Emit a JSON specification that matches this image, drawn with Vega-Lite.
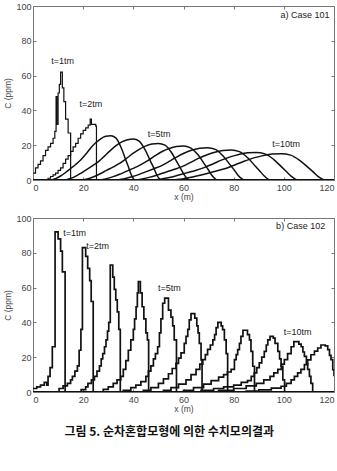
{
  "$schema": "https://vega.github.io/schema/vega-lite/v6.json",
  "background": "white",
  "padding": {"left": 3, "top": 1, "right": 0, "bottom": 0},
  "spacing": 11,
  "title": {"text": "그림 5. 순차혼합모형에 의한 수치모의결과", "orient": "bottom", "anchor": "middle", "font": "Noto Sans CJK KR", "fontSize": 12, "fontWeight": "bold", "color": "#111", "offset": 13},
  "config": {
    "view": {"stroke": "#777", "strokeWidth": 1},
    "axis": {"labelFont": "Liberation Sans", "labelFontSize": 9, "labelColor": "#444", "titleFont": "Liberation Sans", "titleFontSize": 8.5, "titleFontWeight": "normal", "titleColor": "#444", "tickColor": "#777", "tickSize": -3, "domain": false, "grid": false},
    "text": {"font": "Liberation Sans", "fontSize": 9, "color": "#222"}
  },
  "datasets": {
    "a": [
      {"t":1,"k":"s","x":0,"C":4},{"t":1,"k":"s","x":1,"C":7},{"t":1,"k":"s","x":2,"C":9},{"t":1,"k":"s","x":3,"C":11},{"t":1,"k":"s","x":4,"C":14},{"t":1,"k":"s","x":5,"C":17},{"t":1,"k":"s","x":6,"C":19},{"t":1,"k":"s","x":7,"C":21},{"t":1,"k":"s","x":8,"C":24},{"t":1,"k":"s","x":8.7,"C":28},{"t":1,"k":"s","x":9.2,"C":48},{"t":1,"k":"s","x":9.5,"C":32},{"t":1,"k":"s","x":10,"C":50},{"t":1,"k":"s","x":10.5,"C":55},{"t":1,"k":"s","x":11,"C":62},{"t":1,"k":"s","x":11.7,"C":53},{"t":1,"k":"s","x":12.3,"C":45},{"t":1,"k":"s","x":13,"C":35},{"t":1,"k":"s","x":14,"C":27},{"t":1,"k":"s","x":15,"C":0},{"t":1,"k":"s","x":120,"C":0},
      {"t":2,"k":"s","x":0,"C":0},{"t":2,"k":"s","x":5,"C":0},{"t":2,"k":"s","x":6,"C":1},{"t":2,"k":"s","x":7,"C":2},{"t":2,"k":"s","x":8,"C":3},{"t":2,"k":"s","x":9,"C":4},{"t":2,"k":"s","x":10,"C":5.5},{"t":2,"k":"s","x":11,"C":7},{"t":2,"k":"s","x":12,"C":9.5},{"t":2,"k":"s","x":13,"C":12},{"t":2,"k":"s","x":14,"C":14},{"t":2,"k":"s","x":15,"C":16.5},{"t":2,"k":"s","x":16,"C":19},{"t":2,"k":"s","x":17,"C":21},{"t":2,"k":"s","x":18,"C":24},{"t":2,"k":"s","x":19,"C":26.5},{"t":2,"k":"s","x":20,"C":28.5},{"t":2,"k":"s","x":21,"C":30},{"t":2,"k":"s","x":22,"C":31.5},{"t":2,"k":"s","x":22.8,"C":35},{"t":2,"k":"s","x":23.3,"C":32},{"t":2,"k":"s","x":24,"C":32},{"t":2,"k":"s","x":25,"C":31},{"t":2,"k":"s","x":25.3,"C":0},{"t":2,"k":"s","x":120,"C":0},
      {"t":3,"k":"l","x":0,"C":0},{"t":3,"k":"l","x":7,"C":0},{"t":3,"k":"l","x":9,"C":0.8},{"t":3,"k":"l","x":11,"C":2.3},{"t":3,"k":"l","x":13,"C":4.3},{"t":3,"k":"l","x":15,"C":6.6},{"t":3,"k":"l","x":17,"C":8.9},{"t":3,"k":"l","x":19,"C":11.5},{"t":3,"k":"l","x":21,"C":14.8},{"t":3,"k":"l","x":23,"C":18.4},{"t":3,"k":"l","x":25,"C":21.4},{"t":3,"k":"l","x":27,"C":23.7},{"t":3,"k":"l","x":29,"C":25.1},{"t":3,"k":"l","x":31,"C":25.5},{"t":3,"k":"l","x":33,"C":24.2},{"t":3,"k":"l","x":35,"C":19.1},{"t":3,"k":"l","x":37,"C":11.5},{"t":3,"k":"l","x":38,"C":7.7},{"t":3,"k":"l","x":39,"C":3.6},{"t":3,"k":"l","x":40,"C":0.8},{"t":3,"k":"l","x":40.5,"C":0},{"t":3,"k":"l","x":120,"C":0},
      {"t":4,"k":"l","x":0,"C":0},{"t":4,"k":"l","x":12.3,"C":0},{"t":4,"k":"l","x":14.6,"C":0.7},{"t":4,"k":"l","x":16.9,"C":2.1},{"t":4,"k":"l","x":19.2,"C":4},{"t":4,"k":"l","x":21.5,"C":6.1},{"t":4,"k":"l","x":23.8,"C":8.2},{"t":4,"k":"l","x":26.1,"C":10.6},{"t":4,"k":"l","x":28.4,"C":13.6},{"t":4,"k":"l","x":30.8,"C":16.9},{"t":4,"k":"l","x":33.1,"C":19.7},{"t":4,"k":"l","x":35.4,"C":21.9},{"t":4,"k":"l","x":37.7,"C":23.1},{"t":4,"k":"l","x":40,"C":23.5},{"t":4,"k":"l","x":42.3,"C":22.3},{"t":4,"k":"l","x":44.6,"C":17.6},{"t":4,"k":"l","x":46.9,"C":10.6},{"t":4,"k":"l","x":48.1,"C":7.1},{"t":4,"k":"l","x":49.2,"C":3.3},{"t":4,"k":"l","x":50.4,"C":0.7},{"t":4,"k":"l","x":51,"C":0},{"t":4,"k":"l","x":120,"C":0},
      {"t":5,"k":"l","x":0,"C":0},{"t":5,"k":"l","x":19,"C":0},{"t":5,"k":"l","x":21.6,"C":0.6},{"t":5,"k":"l","x":24.2,"C":1.9},{"t":5,"k":"l","x":26.8,"C":3.6},{"t":5,"k":"l","x":29.3,"C":5.5},{"t":5,"k":"l","x":31.9,"C":7.4},{"t":5,"k":"l","x":34.5,"C":9.5},{"t":5,"k":"l","x":37.1,"C":12.2},{"t":5,"k":"l","x":39.7,"C":15.1},{"t":5,"k":"l","x":42.3,"C":17.6},{"t":5,"k":"l","x":44.8,"C":19.5},{"t":5,"k":"l","x":47.4,"C":20.7},{"t":5,"k":"l","x":50,"C":21},{"t":5,"k":"l","x":52.6,"C":20},{"t":5,"k":"l","x":55.2,"C":15.8},{"t":5,"k":"l","x":57.7,"C":9.5},{"t":5,"k":"l","x":59,"C":6.3},{"t":5,"k":"l","x":60.3,"C":2.9},{"t":5,"k":"l","x":61.6,"C":0.6},{"t":5,"k":"l","x":62.3,"C":0},{"t":5,"k":"l","x":120,"C":0},
      {"t":6,"k":"l","x":0,"C":0},{"t":6,"k":"l","x":26.1,"C":0},{"t":6,"k":"l","x":28.9,"C":0.6},{"t":6,"k":"l","x":31.7,"C":1.8},{"t":6,"k":"l","x":34.5,"C":3.3},{"t":6,"k":"l","x":37.4,"C":5.1},{"t":6,"k":"l","x":40.2,"C":6.8},{"t":6,"k":"l","x":43,"C":8.8},{"t":6,"k":"l","x":45.9,"C":11.3},{"t":6,"k":"l","x":48.7,"C":14},{"t":6,"k":"l","x":51.5,"C":16.4},{"t":6,"k":"l","x":54.3,"C":18.1},{"t":6,"k":"l","x":57.2,"C":19.2},{"t":6,"k":"l","x":60,"C":19.5},{"t":6,"k":"l","x":62.8,"C":18.5},{"t":6,"k":"l","x":65.7,"C":14.6},{"t":6,"k":"l","x":68.5,"C":8.8},{"t":6,"k":"l","x":69.9,"C":5.9},{"t":6,"k":"l","x":71.3,"C":2.7},{"t":6,"k":"l","x":72.7,"C":0.6},{"t":6,"k":"l","x":73.4,"C":0},{"t":6,"k":"l","x":120,"C":0},
      {"t":7,"k":"l","x":0,"C":0},{"t":7,"k":"l","x":32.9,"C":0},{"t":7,"k":"l","x":36,"C":0.6},{"t":7,"k":"l","x":39,"C":1.7},{"t":7,"k":"l","x":42.1,"C":3.1},{"t":7,"k":"l","x":45.2,"C":4.8},{"t":7,"k":"l","x":48.2,"C":6.5},{"t":7,"k":"l","x":51.3,"C":8.3},{"t":7,"k":"l","x":54.3,"C":10.7},{"t":7,"k":"l","x":57.4,"C":13.3},{"t":7,"k":"l","x":60.4,"C":15.5},{"t":7,"k":"l","x":63.5,"C":17.2},{"t":7,"k":"l","x":66.5,"C":18.2},{"t":7,"k":"l","x":69.6,"C":18.5},{"t":7,"k":"l","x":72.7,"C":17.6},{"t":7,"k":"l","x":75.7,"C":13.9},{"t":7,"k":"l","x":78.8,"C":8.3},{"t":7,"k":"l","x":80.3,"C":5.6},{"t":7,"k":"l","x":81.8,"C":2.6},{"t":7,"k":"l","x":83.4,"C":0.6},{"t":7,"k":"l","x":84.1,"C":0},{"t":7,"k":"l","x":120,"C":0},
      {"t":8,"k":"l","x":0,"C":0},{"t":8,"k":"l","x":39.8,"C":0},{"t":8,"k":"l","x":43.1,"C":0.5},{"t":8,"k":"l","x":46.3,"C":1.5},{"t":8,"k":"l","x":49.6,"C":2.9},{"t":8,"k":"l","x":52.9,"C":4.5},{"t":8,"k":"l","x":56.1,"C":6},{"t":8,"k":"l","x":59.4,"C":7.7},{"t":8,"k":"l","x":62.7,"C":10},{"t":8,"k":"l","x":65.9,"C":12.4},{"t":8,"k":"l","x":69.2,"C":14.4},{"t":8,"k":"l","x":72.5,"C":16},{"t":8,"k":"l","x":75.7,"C":16.9},{"t":8,"k":"l","x":79,"C":17.2},{"t":8,"k":"l","x":82.3,"C":16.3},{"t":8,"k":"l","x":85.5,"C":12.9},{"t":8,"k":"l","x":88.8,"C":7.7},{"t":8,"k":"l","x":90.4,"C":5.2},{"t":8,"k":"l","x":92.1,"C":2.4},{"t":8,"k":"l","x":93.7,"C":0.5},{"t":8,"k":"l","x":94.5,"C":0},{"t":8,"k":"l","x":120,"C":0},
      {"t":9,"k":"l","x":0,"C":0},{"t":9,"k":"l","x":47.4,"C":0},{"t":9,"k":"l","x":50.9,"C":0.5},{"t":9,"k":"l","x":54.4,"C":1.4},{"t":9,"k":"l","x":57.8,"C":2.7},{"t":9,"k":"l","x":61.3,"C":4.1},{"t":9,"k":"l","x":64.8,"C":5.5},{"t":9,"k":"l","x":68.2,"C":7.1},{"t":9,"k":"l","x":71.7,"C":9.2},{"t":9,"k":"l","x":75.1,"C":11.4},{"t":9,"k":"l","x":78.6,"C":13.3},{"t":9,"k":"l","x":82.1,"C":14.7},{"t":9,"k":"l","x":85.5,"C":15.6},{"t":9,"k":"l","x":89,"C":15.8},{"t":9,"k":"l","x":92.5,"C":15},{"t":9,"k":"l","x":95.9,"C":11.9},{"t":9,"k":"l","x":99.4,"C":7.1},{"t":9,"k":"l","x":101.1,"C":4.7},{"t":9,"k":"l","x":102.9,"C":2.2},{"t":9,"k":"l","x":104.6,"C":0.5},{"t":9,"k":"l","x":105.5,"C":0},{"t":9,"k":"l","x":120,"C":0},
      {"t":10,"k":"l","x":0,"C":0},{"t":10,"k":"l","x":55.2,"C":0},{"t":10,"k":"l","x":58.8,"C":0.5},{"t":10,"k":"l","x":62.5,"C":1.4},{"t":10,"k":"l","x":66.1,"C":2.6},{"t":10,"k":"l","x":69.8,"C":3.9},{"t":10,"k":"l","x":73.4,"C":5.3},{"t":10,"k":"l","x":77.1,"C":6.8},{"t":10,"k":"l","x":80.7,"C":8.8},{"t":10,"k":"l","x":84.4,"C":10.9},{"t":10,"k":"l","x":88,"C":12.7},{"t":10,"k":"l","x":91.7,"C":14},{"t":10,"k":"l","x":95.3,"C":14.9},{"t":10,"k":"l","x":99,"C":15.1},{"t":10,"k":"l","x":102.7,"C":14.3},{"t":10,"k":"l","x":106.3,"C":11.3},{"t":10,"k":"l","x":110,"C":6.8},{"t":10,"k":"l","x":111.8,"C":4.5},{"t":10,"k":"l","x":113.6,"C":2.1},{"t":10,"k":"l","x":115.4,"C":0.5},{"t":10,"k":"l","x":116.3,"C":0},{"t":10,"k":"l","x":120,"C":0}
    ],
    "b": [
      {"t":1,"x":0,"C":2},{"t":1,"x":1.5,"C":3},{"t":1,"x":3,"C":4},{"t":1,"x":4.5,"C":5.5},{"t":1,"x":5.5,"C":4},{"t":1,"x":6,"C":9},{"t":1,"x":6.8,"C":14},{"t":1,"x":7.7,"C":26},{"t":1,"x":8.8,"C":92},{"t":1,"x":10,"C":88},{"t":1,"x":11,"C":81},{"t":1,"x":11.7,"C":69},{"t":1,"x":12.8,"C":0},{"t":1,"x":120,"C":0},
      {"t":2,"x":0,"C":0},{"t":2,"x":10,"C":0},{"t":2,"x":10.4,"C":2},{"t":2,"x":12,"C":3.5},{"t":2,"x":13.7,"C":5},{"t":2,"x":15,"C":7},{"t":2,"x":15.7,"C":9},{"t":2,"x":16.7,"C":12},{"t":2,"x":17.7,"C":15},{"t":2,"x":18.4,"C":24},{"t":2,"x":19.1,"C":36},{"t":2,"x":19.7,"C":83},{"t":2,"x":21,"C":78},{"t":2,"x":21.8,"C":71},{"t":2,"x":22.6,"C":64},{"t":2,"x":23.2,"C":52},{"t":2,"x":24,"C":0},{"t":2,"x":120,"C":0},
      {"t":3,"x":0,"C":0},{"t":3,"x":17,"C":0},{"t":3,"x":19.2,"C":1.4},{"t":3,"x":21,"C":3},{"t":3,"x":21.9,"C":5},{"t":3,"x":23.3,"C":7},{"t":3,"x":24.5,"C":9},{"t":3,"x":25.5,"C":12},{"t":3,"x":26.5,"C":15},{"t":3,"x":27.2,"C":19},{"t":3,"x":27.8,"C":22},{"t":3,"x":28.5,"C":26},{"t":3,"x":29.1,"C":30},{"t":3,"x":29.7,"C":35},{"t":3,"x":30.2,"C":40},{"t":3,"x":30.8,"C":73},{"t":3,"x":31.8,"C":66},{"t":3,"x":32.4,"C":59},{"t":3,"x":33,"C":53},{"t":3,"x":33.6,"C":46},{"t":3,"x":34.2,"C":36},{"t":3,"x":34.8,"C":0},{"t":3,"x":120,"C":0},
      {"t":4,"x":0,"C":0},{"t":4,"x":26,"C":0},{"t":4,"x":28,"C":1.5},{"t":4,"x":30,"C":3},{"t":4,"x":32,"C":5},{"t":4,"x":33.5,"C":7},{"t":4,"x":35,"C":9},{"t":4,"x":36,"C":13},{"t":4,"x":37,"C":18},{"t":4,"x":38,"C":24},{"t":4,"x":39,"C":30},{"t":4,"x":40,"C":36},{"t":4,"x":40.5,"C":42},{"t":4,"x":41.1,"C":49},{"t":4,"x":41.6,"C":57},{"t":4,"x":42,"C":63.5},{"t":4,"x":42.8,"C":57},{"t":4,"x":43.5,"C":49},{"t":4,"x":44.2,"C":42},{"t":4,"x":45,"C":34},{"t":4,"x":45.6,"C":30},{"t":4,"x":46.1,"C":0},{"t":4,"x":120,"C":0},
      {"t":5,"x":0,"C":0},{"t":5,"x":33,"C":0},{"t":5,"x":36,"C":1},{"t":5,"x":39,"C":2.5},{"t":5,"x":41,"C":4},{"t":5,"x":43,"C":6},{"t":5,"x":45,"C":9},{"t":5,"x":46,"C":12},{"t":5,"x":47,"C":15},{"t":5,"x":48,"C":19},{"t":5,"x":48.8,"C":22},{"t":5,"x":49.7,"C":26},{"t":5,"x":50.4,"C":34},{"t":5,"x":51,"C":42},{"t":5,"x":51.7,"C":51},{"t":5,"x":52.5,"C":54},{"t":5,"x":54,"C":47},{"t":5,"x":55,"C":43},{"t":5,"x":55.7,"C":38},{"t":5,"x":56.3,"C":30},{"t":5,"x":57.2,"C":0},{"t":5,"x":120,"C":0},
      {"t":6,"x":0,"C":0},{"t":6,"x":40,"C":0},{"t":6,"x":44,"C":1},{"t":6,"x":47,"C":2.5},{"t":6,"x":50,"C":5},{"t":6,"x":52,"C":7.5},{"t":6,"x":54,"C":10.5},{"t":6,"x":55.5,"C":13.5},{"t":6,"x":57,"C":16.5},{"t":6,"x":58,"C":19.5},{"t":6,"x":59,"C":22.5},{"t":6,"x":60.3,"C":28},{"t":6,"x":61,"C":32},{"t":6,"x":61.7,"C":36},{"t":6,"x":62.3,"C":41.5},{"t":6,"x":63,"C":45},{"t":6,"x":64.5,"C":42.5},{"t":6,"x":65.3,"C":38},{"t":6,"x":65.8,"C":34},{"t":6,"x":66.3,"C":28},{"t":6,"x":67,"C":18.5},{"t":6,"x":67.4,"C":0},{"t":6,"x":120,"C":0},
      {"t":7,"x":0,"C":0},{"t":7,"x":48,"C":0},{"t":7,"x":52,"C":1},{"t":7,"x":55,"C":2.5},{"t":7,"x":58,"C":4.5},{"t":7,"x":61,"C":7},{"t":7,"x":63,"C":10},{"t":7,"x":65,"C":13},{"t":7,"x":66.5,"C":16},{"t":7,"x":67.7,"C":18.6},{"t":7,"x":68.7,"C":21.5},{"t":7,"x":69.6,"C":24.5},{"t":7,"x":70.7,"C":27},{"t":7,"x":71.7,"C":30},{"t":7,"x":72.4,"C":33},{"t":7,"x":73,"C":37},{"t":7,"x":73.7,"C":40},{"t":7,"x":75,"C":38},{"t":7,"x":75.6,"C":35.8},{"t":7,"x":76.3,"C":30},{"t":7,"x":77,"C":22},{"t":7,"x":77.6,"C":0},{"t":7,"x":120,"C":0},
      {"t":8,"x":0,"C":0},{"t":8,"x":55,"C":0},{"t":8,"x":60,"C":1},{"t":8,"x":64,"C":2.5},{"t":8,"x":68,"C":4.5},{"t":8,"x":71,"C":6.5},{"t":8,"x":74,"C":8.5},{"t":8,"x":76,"C":10},{"t":8,"x":77.5,"C":11.5},{"t":8,"x":79,"C":13},{"t":8,"x":80.3,"C":18.6},{"t":8,"x":81,"C":21.5},{"t":8,"x":81.6,"C":24.3},{"t":8,"x":82.3,"C":28},{"t":8,"x":82.9,"C":32},{"t":8,"x":83.7,"C":35.5},{"t":8,"x":85.5,"C":33},{"t":8,"x":86.3,"C":30},{"t":8,"x":86.9,"C":23.4},{"t":8,"x":87.6,"C":14.8},{"t":8,"x":88.3,"C":0},{"t":8,"x":120,"C":0},
      {"t":9,"x":0,"C":0},{"t":9,"x":62,"C":0},{"t":9,"x":67,"C":1},{"t":9,"x":72,"C":2},{"t":9,"x":76,"C":3},{"t":9,"x":80,"C":4},{"t":9,"x":83,"C":5.5},{"t":9,"x":85.5,"C":6.5},{"t":9,"x":87,"C":9},{"t":9,"x":88.2,"C":11},{"t":9,"x":89.2,"C":14},{"t":9,"x":90.2,"C":16.7},{"t":9,"x":91.2,"C":20},{"t":9,"x":92.2,"C":23.4},{"t":9,"x":93,"C":27},{"t":9,"x":93.6,"C":30},{"t":9,"x":94.5,"C":32},{"t":9,"x":95.8,"C":31},{"t":9,"x":96.5,"C":28},{"t":9,"x":97.6,"C":23.4},{"t":9,"x":98.3,"C":19},{"t":9,"x":98.9,"C":14.8},{"t":9,"x":99.6,"C":7},{"t":9,"x":100.3,"C":0},{"t":9,"x":120,"C":0},
      {"t":10,"x":0,"C":0},{"t":10,"x":68,"C":0},{"t":10,"x":74,"C":1},{"t":10,"x":80,"C":2},{"t":10,"x":85,"C":3.5},{"t":10,"x":89,"C":5},{"t":10,"x":92,"C":7},{"t":10,"x":94.5,"C":9},{"t":10,"x":96,"C":11},{"t":10,"x":97.6,"C":13},{"t":10,"x":99,"C":16},{"t":10,"x":100.2,"C":18.6},{"t":10,"x":101.5,"C":22},{"t":10,"x":102.9,"C":26},{"t":10,"x":104,"C":29},{"t":10,"x":106,"C":27.5},{"t":10,"x":106.9,"C":26},{"t":10,"x":107.6,"C":23},{"t":10,"x":108.2,"C":20.5},{"t":10,"x":109,"C":16},{"t":10,"x":109.5,"C":13},{"t":10,"x":110.2,"C":9},{"t":10,"x":110.8,"C":5},{"t":10,"x":111.5,"C":0},{"t":10,"x":120,"C":0},
      {"t":11,"x":0,"C":0},{"t":11,"x":78,"C":0},{"t":11,"x":85,"C":0.5},{"t":11,"x":90,"C":1.2},{"t":11,"x":95,"C":2.2},{"t":11,"x":98.9,"C":3.3},{"t":11,"x":101,"C":5},{"t":11,"x":102.9,"C":7},{"t":11,"x":104.2,"C":9},{"t":11,"x":105.5,"C":11},{"t":11,"x":106.8,"C":13},{"t":11,"x":108.2,"C":15.7},{"t":11,"x":109.5,"C":18.5},{"t":11,"x":110.8,"C":21.4},{"t":11,"x":112.2,"C":23.5},{"t":11,"x":113.5,"C":25.3},{"t":11,"x":114.8,"C":27},{"t":11,"x":116.5,"C":26.5},{"t":11,"x":117.5,"C":24.3},{"t":11,"x":118.2,"C":21},{"t":11,"x":118.8,"C":18.6},{"t":11,"x":119.5,"C":12.8},{"t":11,"x":120,"C":9}
    ],
    "la": [
      {"x":11.8,"C":68.4,"label":"t=1tm"},{"x":23.1,"C":43.5,"label":"t=2tm"},{"x":50.3,"C":26.4,"label":"t=5tm"},{"x":100.9,"C":20.5,"label":"t=10tm"},{"x":108.4,"C":94.8,"label":"a) Case 101"}
    ],
    "lb": [
      {"x":16.6,"C":91.4,"label":"t=1tm"},{"x":25.8,"C":84,"label":"t=2tm"},{"x":54.4,"C":59.8,"label":"t=5tm"},{"x":105.5,"C":34.3,"label":"t=10tm"},{"x":106.7,"C":95.6,"label":"b) Case 102"}
    ]
  },
  "vconcat": [
    {
      "width": 301,
      "height": 174,
      "data": {"name": "a"},
      "resolve": {"axis": {"x": "independent", "y": "independent"}},
      "layer": [
        {
          "transform": [{"filter": "datum.k == 's'"}],
          "mark": {"type": "line", "interpolate": "step-after", "color": "#111", "strokeWidth": 1.2, "clip": true},
          "encoding": {
            "x": {"field": "x", "type": "quantitative", "scale": {"domain": [0, 120], "nice": false, "zero": false}, "axis": {"values": [0, 20, 40, 60, 80, 100, 120], "title": "x (m)", "labelPadding": 6.5, "titlePadding": 0}},
            "y": {"field": "C", "type": "quantitative", "scale": {"domain": [0, 100], "nice": false}, "axis": {"values": [0, 20, 40, 60, 80, 100], "title": "C (ppm)", "labelPadding": 5, "titlePadding": 3}},
            "detail": {"field": "t"}
          }
        },
        {
          "transform": [{"filter": "datum.k == 'l'"}],
          "mark": {"type": "line", "interpolate": "monotone", "color": "#111", "strokeWidth": 1.5, "clip": true},
          "encoding": {
            "x": {"field": "x", "type": "quantitative", "scale": {"domain": [0, 120], "nice": false, "zero": false}, "axis": null},
            "y": {"field": "C", "type": "quantitative", "scale": {"domain": [0, 100], "nice": false}, "axis": null},
            "detail": {"field": "t"}
          }
        },
        {
          "data": {"name": "la"},
          "mark": {"type": "text", "align": "center", "baseline": "middle"},
          "encoding": {
            "x": {"field": "x", "type": "quantitative", "scale": {"domain": [0, 120], "nice": false, "zero": false}, "axis": {"orient": "top", "values": [0, 20, 40, 60, 80, 100, 120], "labels": false, "title": null}},
            "y": {"field": "C", "type": "quantitative", "scale": {"domain": [0, 100], "nice": false}, "axis": {"orient": "right", "values": [0, 20, 40, 60, 80, 100], "labels": false, "title": null}},
            "text": {"field": "label"}
          }
        }
      ]
    },
    {
      "width": 301,
      "height": 174,
      "data": {"name": "b"},
      "resolve": {"axis": {"x": "independent", "y": "independent"}},
      "layer": [
        {
          "mark": {"type": "line", "interpolate": "step-after", "color": "#111", "strokeWidth": 1.7, "clip": true},
          "encoding": {
            "x": {"field": "x", "type": "quantitative", "scale": {"domain": [0, 120], "nice": false, "zero": false}, "axis": {"values": [0, 20, 40, 60, 80, 100, 120], "title": "x (m)", "labelPadding": 6.5, "titlePadding": 0}},
            "y": {"field": "C", "type": "quantitative", "scale": {"domain": [0, 100], "nice": false}, "axis": {"values": [0, 20, 40, 60, 80, 100], "title": "C (ppm)", "labelPadding": 5, "titlePadding": 3}},
            "detail": {"field": "t"}
          }
        },
        {
          "data": {"name": "lb"},
          "mark": {"type": "text", "align": "center", "baseline": "middle"},
          "encoding": {
            "x": {"field": "x", "type": "quantitative", "scale": {"domain": [0, 120], "nice": false, "zero": false}, "axis": {"orient": "top", "values": [0, 20, 40, 60, 80, 100, 120], "labels": false, "title": null}},
            "y": {"field": "C", "type": "quantitative", "scale": {"domain": [0, 100], "nice": false}, "axis": {"orient": "right", "values": [0, 20, 40, 60, 80, 100], "labels": false, "title": null}},
            "text": {"field": "label"}
          }
        }
      ]
    }
  ]
}
